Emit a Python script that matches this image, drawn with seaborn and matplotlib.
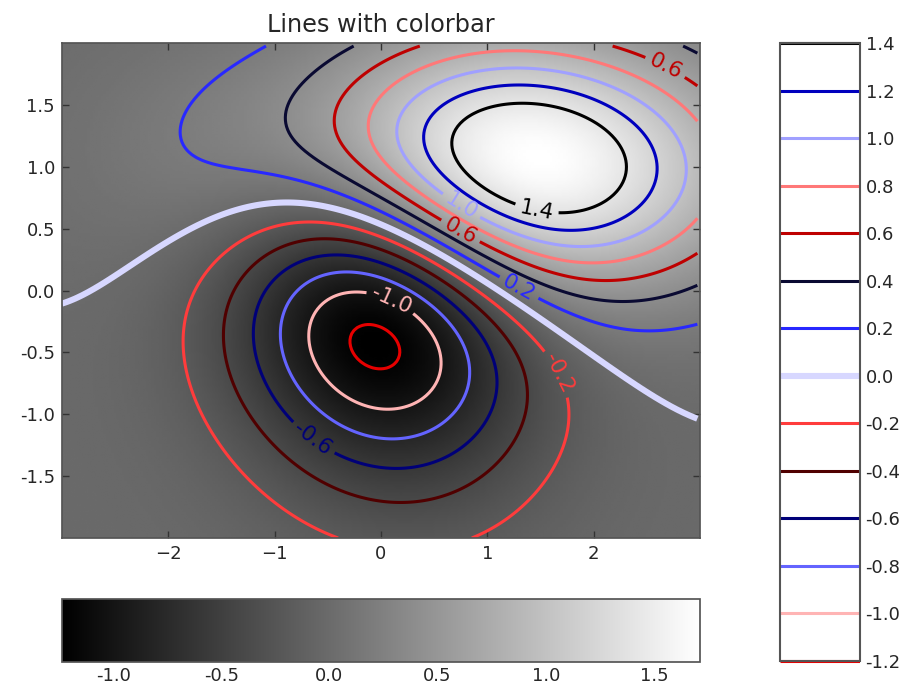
import numpy as np
import matplotlib
matplotlib.use("Agg")
import matplotlib.pyplot as plt
from matplotlib.colors import ListedColormap, Normalize
from matplotlib.cm import ScalarMappable
import seaborn as sns

# ---- data: a bump minus a dip (Gaussian shapes) ----
x_range = [-3.0, 3.0]
y_range = [-2.0, 2.0]
grid_step = 0.025
bump_height = 2.0430
bump_center = [0.9857, 0.9932]
bump_sigma = [1.5966, 0.7351]
bump_angle = -0.0146
dip_depth = 1.6028
dip_center = [-0.0478, -0.0212]
dip_sigma = [0.9328, 1.0736]
dip_angle = 0.7593
background_level = -0.0085
levels = [-1.2, -1.0, -0.8, -0.6, -0.4, -0.2, 0.0, 0.2, 0.4, 0.6, 0.8, 1.0, 1.2, 1.4]
image_ticks = [-1.0, -0.5, 0.0, 0.5, 1.0, 1.5]
x_ticks = [-2, -1, 0, 1, 2]
y_ticks = [-1.5, -1.0, -0.5, 0.0, 0.5, 1.0, 1.5]

# ---- styles ----
line_colors = ["#e60000", "#ffb4b4", "#6464ff", "#000078", "#500000", "#ff3c3c",
               "#d7d7ff", "#2828ff", "#0a0a32", "#be0000", "#ff7878", "#a0a0ff",
               "#0000be", "#000000"]
label_positions = [(0.0, -0.26), (-0.65, -1.21), (1.6, -0.7), (1.25, -0.05),
                   (0.76, 0.5), (2.67, 1.8), (0.76, 0.69), (1.47, 0.675)]

sns.set_theme(style="ticks")
plt.rcParams["font.family"] = ["DejaVu Sans"]
plt.rcParams["xtick.direction"] = "in"
plt.rcParams["ytick.direction"] = "in"


def bump(X, Y, c, s, t):
    dx, dy = X - c[0], Y - c[1]
    u = dx * np.cos(t) + dy * np.sin(t)
    v = -dx * np.sin(t) + dy * np.cos(t)
    return np.exp(-0.5 * (u / s[0]) ** 2 - 0.5 * (v / s[1]) ** 2)


x = np.arange(x_range[0], x_range[1], grid_step)
y = np.arange(y_range[0], y_range[1], grid_step)
X, Y = np.meshgrid(x, y)
Z = (bump_height * bump(X, Y, bump_center, bump_sigma, bump_angle)
     - dip_depth * bump(X, Y, dip_center, dip_sigma, dip_angle)
     + background_level)

W, H = 917, 690
fig = plt.figure(figsize=(W / 100, H / 100), dpi=100)
ax = fig.add_axes([62 / W, 1 - 538 / H, 638 / W, 495 / H])
cax_h = fig.add_axes([62 / W, 1 - 662 / H, 638 / W, 63 / H])
cax_v = fig.add_axes([780 / W, 1 - 661 / H, 80 / W, 618 / H])

extent = (x_range[0], x_range[1], y_range[0], y_range[1])
im = ax.imshow(Z, interpolation="bilinear", origin="lower", cmap="gray",
               extent=extent, aspect="auto")
lws = [4.4 if lv == 0.0 else 2.2 for lv in levels]

# labelled levels (every second one) and the rest drawn as two sets
lab_idx = list(range(1, len(levels), 2))
unl_idx = list(range(0, len(levels), 2))
CS_u = ax.contour(X, Y, Z, [levels[i] for i in unl_idx],
                  colors=[line_colors[i] for i in unl_idx],
                  linewidths=[lws[i] for i in unl_idx])
CS_l = ax.contour(X, Y, Z, [levels[i] for i in lab_idx],
                  colors=[line_colors[i] for i in lab_idx],
                  linewidths=[lws[i] for i in lab_idx])
ax.clabel(CS_l, inline=True, fmt="%1.1f", fontsize=15.5, manual=label_positions)

ax.set_xlim(x_range)
ax.set_ylim(y_range)
ax.set_xticks(x_ticks)
ax.set_yticks(y_ticks)
ax.set_yticklabels([f"{v:.1f}" for v in y_ticks])
ax.tick_params(top=True, right=True, length=5, width=1, labelsize=13, pad=5, color="#333333")
ax.set_title("Lines with colorbar", fontsize=17.3, pad=8)
for sp in ax.spines.values():
    sp.set_color("#555555")

CBI = fig.colorbar(im, cax=cax_h, orientation="horizontal", ticks=image_ticks)
cax_h.tick_params(top=True, bottom=True, direction="in", length=6, labelsize=13, color="#333333")
cax_h.set_xticklabels([f"{v:.1f}" for v in image_ticks])
CBI.outline.set_edgecolor("#555555")

sm = ScalarMappable(norm=Normalize(levels[0], levels[-1]), cmap=ListedColormap(["white"]))
CB = fig.colorbar(sm, cax=cax_v, ticks=levels)
CB.add_lines(levels, line_colors, lws)
cax_v.tick_params(right=True, direction="in", length=4, labelsize=13, color="#333333", pad=4)
cax_v.set_yticklabels([f"{v:.1f}" for v in levels])
CB.outline.set_edgecolor("#555555")
CB.outline.set_linewidth(1.5)

fig.savefig("out.png", dpi=100)
